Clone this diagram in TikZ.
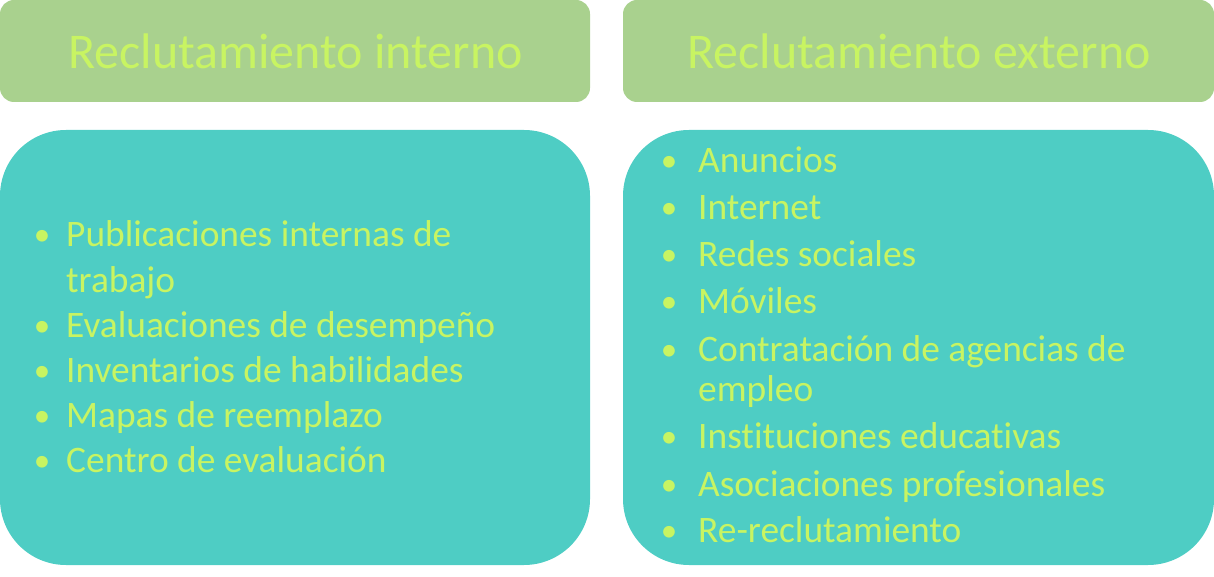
\documentclass[tikz,border=0pt]{standalone}
\usepackage{fontspec}
\setmainfont[RawFeature={-liga;-clig;-calt;-dlig}]{Carlito}
\definecolor{hdrgreen}{HTML}{A9D18E}
\definecolor{bodyteal}{HTML}{4ECDC4}
\definecolor{limetext}{HTML}{C8F462}
\begin{document}
\begin{tikzpicture}[x=1pt,y=-1pt,
  hdrbox/.style={fill=hdrgreen,draw=none,rounded corners=14pt},
  bodybox/.style={fill=bodyteal,draw=none,rounded corners=66pt},
  titletxt/.style={anchor=base,inner sep=0pt,text=limetext,font=\fontsize{50}{58}\selectfont},
  itemtxt/.style={anchor=base west,inner sep=0pt,text=limetext,font=\fontsize{37.4}{44}\selectfont},
  bul/.style={anchor=base,inner sep=0pt,text=limetext,font=\fontsize{33}{40}\selectfont}
]
\useasboundingbox (0,0) rectangle (1214,577);
% boxes
\path[hdrbox] (0,0) rectangle (590,102);
\path[hdrbox] (623,0) rectangle (1214,102);
\path[bodybox] (0,130) rectangle (590,565);
\path[bodybox] (623,130) rectangle (1214,565);
\node[titletxt] (t1) at (295.5,69) {Reclutamiento interno};
\node[titletxt] (t2) at (919,69) {Reclutamiento externo};
% left list
\node[bul] (lb1) at (42,246) {\textbullet};
\node[itemtxt] (l1) at (66,247) {Publicaciones internas de};
\node[itemtxt] (l1b) at (66,292) {trabajo};
\node[bul] (lb2) at (42,336) {\textbullet};
\node[itemtxt] (l2) at (66,337) {Evaluaciones de desempeño};
\node[bul] (lb3) at (42,381) {\textbullet};
\node[itemtxt] (l3) at (66,382) {Inventarios de habilidades};
\node[bul] (lb4) at (42,426) {\textbullet};
\node[itemtxt] (l4) at (66,427) {Mapas de reemplazo};
\node[bul] (lb5) at (42,471) {\textbullet};
\node[itemtxt] (l5) at (66,472) {Centro de evaluación};
% right list
\node[bul] (rb1) at (669,172) {\textbullet};
\node[itemtxt] (r1) at (698,173) {Anuncios};
\node[bul] (rb2) at (669,218.5) {\textbullet};
\node[itemtxt] (r2) at (698,219.5) {Internet};
\node[bul] (rb3) at (669,265) {\textbullet};
\node[itemtxt] (r3) at (698,266) {Redes sociales};
\node[bul] (rb4) at (669,312.5) {\textbullet};
\node[itemtxt] (r4) at (698,313.5) {Móviles};
\node[bul] (rb5) at (669,360) {\textbullet};
\node[itemtxt] (r5) at (698,361) {Contratación de agencias de};
\node[itemtxt] (r5b) at (698,401) {empleo};
\node[bul] (rb6) at (669,447.5) {\textbullet};
\node[itemtxt] (r6) at (698,448.5) {Instituciones educativas};
\node[bul] (rb7) at (669,495) {\textbullet};
\node[itemtxt] (r7) at (698,496) {Asociaciones profesionales};
\node[bul] (rb8) at (669,541.5) {\textbullet};
\node[itemtxt] (r8) at (698,542.5) {Re-reclutamiento};
\end{tikzpicture}
\end{document}
